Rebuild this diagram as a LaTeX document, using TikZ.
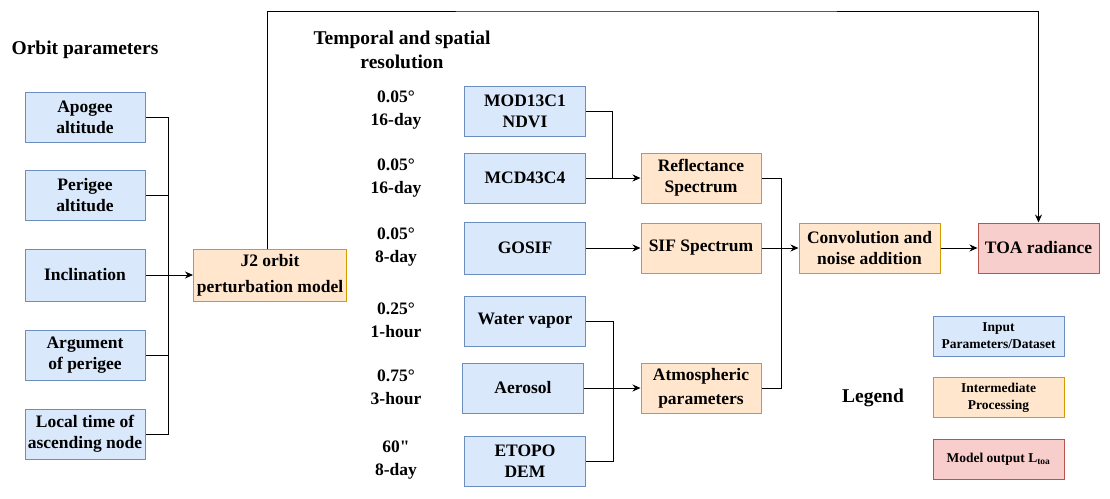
\documentclass[tikz,border=0pt]{standalone}
\usepackage{fontspec}
\setmainfont{Liberation Serif}
\newfontfamily\plainserif{Liberation Serif}
\usetikzlibrary{arrows.meta}

\definecolor{inblue}{HTML}{DAE8FC}
\definecolor{inblueline}{HTML}{6C8EBF}
\definecolor{procorange}{HTML}{FFE6CC}
\definecolor{procline}{HTML}{D79B00}
\definecolor{outred}{HTML}{F8CECC}
\definecolor{redline}{HTML}{B85450}

\tikzset{
  base/.style={draw, line width=1pt, align=center, inner sep=0pt, font=\fontsize{17.5}{21}\selectfont\bfseries},
  inbox/.style={base, fill=inblue, draw=inblueline, minimum width=121pt, minimum height=50pt},
  procbox/.style={base, fill=procorange, draw=procline, minimum width=120pt, minimum height=50pt},
  outbox/.style={base, fill=outred, draw=redline, minimum width=121pt, minimum height=50pt},
  title/.style={font=\fontsize{19.5}{24}\selectfont\bfseries, align=center},
  res/.style={font=\fontsize{17.5}{23}\selectfont\bfseries, align=center},
  legbox/.style={draw, line width=1pt, align=center, inner sep=0pt, minimum width=131pt, minimum height=40pt, font=\fontsize{13.5}{17}\selectfont\bfseries},
  link/.style={line width=1pt},
  arr/.style={line width=1pt, -{Stealth[length=8pt,width=7pt]}}
}

\begin{document}
\begin{tikzpicture}[x=1pt,y=-1pt]
  \useasboundingbox (0,0) rectangle (1110,498);

  % Titles
  \node[title] (orbit) at (85,50) {Orbit parameters};
  \node[title] (tsres) at (402,50) {Temporal and spatial\\resolution};
  \node[title] (legend) at (873,398) {Legend};

  % Orbit parameters
  \node[inbox, minimum width=120pt] (apogee)  at (85,117) {Apogee\\altitude};
  \node[inbox, minimum width=120pt] (perigee) at (85,195) {Perigee\\altitude};
  \node[inbox, minimum width=120pt, minimum height=52pt] (incl) at (85,275) {Inclination};
  \node[inbox, minimum width=120pt] (argp)    at (85,355) {Argument\\of perigee};
  \node[inbox, minimum width=120pt] (ltan)    at (85,434) {Local time of\\ascending node};

  % Orbit model
  \node[procbox, minimum width=153pt, minimum height=52pt] (j2) at (270,275) {J2 orbit\\[5pt]perturbation model};

  % Resolution labels
  \node[res] (resmod)   at (396,110) {0.05°\\16-day};
  \node[res] (resmcd)   at (396,178) {0.05°\\16-day};
  \node[res] (resgosif) at (396,247) {0.05°\\8-day};
  \node[res] (reswv)    at (396,320) {0.25°\\1-hour};
  \node[res] (resaer)   at (396,387) {0.75°\\3-hour};
  \node[res] (resetopo) at (396,460) {{\plainserif 60"}\\8-day};

  % Datasets
  \node[inbox] (mod)   at (525,111) {MOD13C1\\NDVI};
  \node[inbox] (mcd)   at (525,178) {MCD43C4};
  \node[inbox, minimum height=52pt] (gosif) at (525,248) {GOSIF};
  \node[inbox] (wv)    at (525,321) {Water vapor};
  \node[inbox] (aer)   at (523,388) {Aerosol};
  \node[inbox] (etopo) at (525,461) {ETOPO\\DEM};

  % Processing
  \node[procbox] (refl) at (701,178) {Reflectance\\Spectrum};
  \node[procbox] (sif)  at (701,248) {SIF Spectrum};
  \node[procbox] (atm)  at (701,388) {Atmospheric\\[3pt]parameters};
  \node[procbox, minimum width=141pt] (conv) at (869.5,248) {Convolution and\\noise addition};
  \node[outbox] (toa) at (1038.5,248) {TOA radiance};

  % Legend
  \node[legbox, fill=inblue, draw=inblueline] (leginput) at (998.5,336) {Input\\Parameters/Dataset};
  \node[legbox, fill=procorange, draw=procline] (legproc) at (998.5,397.5) {Intermediate\\Processing};
  \node[legbox, fill=outred, draw=redline] (legout) at (998.5,459) {Model output L\textsubscript{toa}};

  % Bus points
  \coordinate (obus) at (168,275);
  \coordinate (mbus) at (612,178);
  \coordinate (abus) at (613,388);
  \coordinate (rbus) at (781,248);
  \coordinate (top) at (640,11);

  % Connectors
  \draw[link] (apogee.east) -| (obus);
  \draw[link] (perigee.east) -| (obus);
  \draw[link] (argp.east) -| (obus);
  \draw[link] (ltan.east) -| (obus);
  \draw[arr] (incl.east) -- (j2.west);

  \draw[link] (mod.east) -| (mbus);
  \draw[arr] (mcd.east) -- (refl.west);
  \draw[arr] (gosif.east) -- (sif.west);
  \draw[link] (wv.east) -| (abus);
  \draw[link] (etopo.east) -| (abus);
  \draw[arr] (aer.east) -- (atm.west);

  \draw[link] (refl.east) -| (rbus);
  \draw[link] (atm.east) -| (rbus);
  \draw[arr] (sif.east) -- (conv.west);
  \draw[arr] (conv.east) -- (toa.west);

  \draw[arr] ([xshift=-3pt]j2.north) |- (top) -| (toa.north);
\end{tikzpicture}
\end{document}
